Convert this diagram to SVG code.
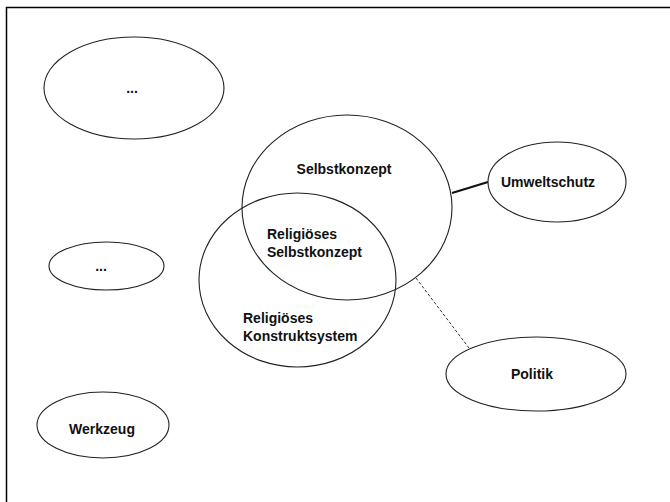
<svg xmlns="http://www.w3.org/2000/svg" width="670" height="502" viewBox="0 0 670 502">
  <style>
    .shape { fill: none; stroke: #222; stroke-width: 1.1; }
    .label { font-family: "Liberation Sans", Arial, sans-serif; font-size: 14px; font-weight: bold; fill: #111; }
    .mid { text-anchor: middle; }
    .frame { fill: none; stroke: #000; stroke-width: 1.5; }
  </style>
  <rect width="670" height="502" fill="#fff"/>
  <!-- open frame: top and left edges only -->
  <path class="frame" d="M6.5,502 V7.5 H670"/>

  <g id="connectors">
    <line x1="452" y1="193" x2="488" y2="182" stroke="#111" stroke-width="2.2"/>
    <line x1="416" y1="278" x2="469" y2="348" stroke="#333" stroke-width="1" stroke-dasharray="3,2"/>
  </g>

  <g id="node-dots-top">
    <ellipse class="shape" cx="134" cy="88" rx="90" ry="51"/>
    <text class="label mid" x="132" y="93">...</text>
  </g>

  <g id="node-selbstkonzept">
    <ellipse class="shape" cx="347" cy="207.5" rx="105" ry="92.5"/>
    <text class="label mid" x="344" y="174">Selbstkonzept</text>
  </g>

  <g id="node-konstruktsystem">
    <ellipse class="shape" cx="297.5" cy="280" rx="98.5" ry="87"/>
    <text class="label" x="243" y="323">Religiöses</text>
    <text class="label" x="243" y="341">Konstruktsystem</text>
  </g>

  <g id="node-religioeses-selbstkonzept">
    <text class="label" x="267" y="239">Religiöses</text>
    <text class="label" x="267" y="257">Selbstkonzept</text>
  </g>

  <g id="node-umweltschutz">
    <ellipse class="shape" cx="557" cy="182" rx="69" ry="40"/>
    <text class="label mid" x="548" y="187">Umweltschutz</text>
  </g>

  <g id="node-politik">
    <ellipse class="shape" cx="536" cy="374" rx="90" ry="37"/>
    <text class="label mid" x="532" y="379">Politik</text>
  </g>

  <g id="node-dots-middle">
    <ellipse class="shape" cx="106.5" cy="266" rx="57.5" ry="24"/>
    <text class="label mid" x="101" y="271">...</text>
  </g>

  <g id="node-werkzeug">
    <ellipse class="shape" cx="103" cy="425" rx="66" ry="33"/>
    <text class="label mid" x="102" y="434">Werkzeug</text>
  </g>
</svg>
